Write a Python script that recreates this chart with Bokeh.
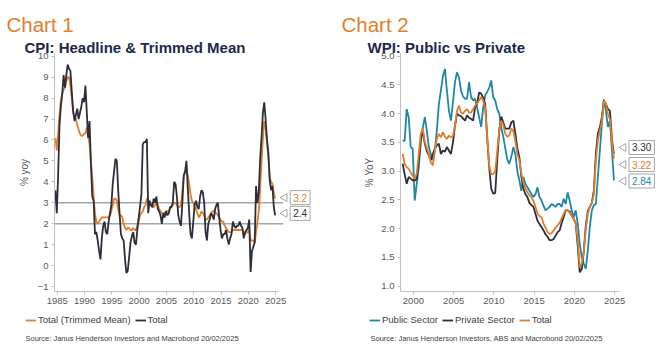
import numpy as np
from bokeh.plotting import figure
from bokeh.layouts import row
from bokeh.models import Range1d, FixedTicker, PrintfTickFormatter, Label, Legend, LegendItem
from bokeh.embed import file_html
from bokeh.resources import INLINE

# ---------------- data ----------------
cpi_start = (1984, 3)  # first quarter shown
cpi_headline = [
    3.6, 2.5,
    4.3, 6.7, 7.6, 8.2,
    9.1, 8.5, 9.1, 9.6,
    9.4, 9.3, 8.3, 7.4,
    6.9, 7.2, 7.5, 7.0,
    7.3, 7.6, 8.0, 7.8,
    8.6, 7.3, 6.1, 6.9,
    4.9, 3.3, 3.1, 1.5,
    1.6, 1.2, 0.7, 0.3,
    1.3, 1.9, 2.1, 1.6,
    1.5, 2.1, 2.5, 2.9,
    3.9, 4.5, 5.1, 5.0,
    3.6, 2.5, 1.5, 1.3,
    1.2, 0.3, -0.35, -0.25,
    0.4, 1.1, 1.4, 1.6,
    1.1, 1.0, 1.7, 2.3,
    2.8, 3.4, 5.8, 5.9,
    5.9, 6.05, 2.5, 3.1,
    2.9, 2.8, 3.2, 3.0,
    3.3, 2.7, 2.6, 2.4,
    2.0, 2.5, 2.3, 2.6,
    2.4, 2.5, 2.8, 2.8,
    3.0, 4.0, 3.9, 3.3,
    2.4, 2.1, 1.9, 3.0,
    4.3, 4.5, 5.0, 3.7,
    2.5, 1.5, 1.3, 2.1,
    2.9, 3.1, 2.8, 2.7,
    3.3, 3.6, 3.5, 3.0,
    1.6, 1.2, 2.0, 2.2,
    2.5, 2.4, 2.2, 2.7,
    2.9, 3.0, 2.3, 1.7,
    1.3, 1.5, 1.5, 1.7,
    1.3, 1.0, 1.3, 1.5,
    2.1, 1.9, 1.8, 1.9,
    1.9, 2.1, 1.9, 1.8,
    1.3, 1.6, 1.7, 1.8,
    2.2, -0.3, 0.7, 0.9,
    1.1, 3.8, 3.0, 3.5,
    5.1, 6.1, 7.3, 7.8,
    7.0, 6.0, 5.4, 4.1,
    3.6, 3.8, 2.8, 2.4,
]
cpi_trimmed = [
    6.1, 5.5,
    6.3, 7.2, 7.9, 8.2,
    8.4, 8.5, 8.8, 9.0,
    9.0, 8.6, 8.0, 7.3,
    7.1, 7.0, 6.7, 6.5,
    6.3, 6.2, 6.2, 6.3,
    6.3, 6.6, 6.2, 5.8,
    5.0, 4.2, 3.3, 2.5,
    2.1, 2.0, 2.1, 2.2,
    2.3, 2.3, 2.3, 2.3,
    2.3, 2.3, 2.4, 2.6,
    2.9, 3.2, 3.2, 3.1,
    2.7, 2.4, 2.4, 2.3,
    2.0, 1.8, 1.7, 1.8,
    1.8, 1.7, 1.7, 1.8,
    1.7, 1.7, 1.9, 2.1,
    2.4, 2.5, 2.6, 2.8,
    2.9, 3.2, 3.1, 3.0,
    2.9, 2.8, 2.8, 2.9,
    3.0, 2.9, 2.7, 2.6,
    2.5, 2.5, 2.5, 2.6,
    2.6, 2.6, 2.7, 2.8,
    2.9, 3.0, 3.0, 2.9,
    2.8, 2.8, 2.9, 3.6,
    4.2, 4.5, 4.6, 4.3,
    3.9, 3.4, 3.1, 3.0,
    2.8, 2.7, 2.5, 2.3,
    2.4, 2.6, 2.5, 2.4,
    2.2, 2.2, 2.3, 2.4,
    2.5, 2.6, 2.6, 2.5,
    2.5, 2.4, 2.3, 2.2,
    2.1, 2.1, 1.9, 1.8,
    1.7, 1.6, 1.6, 1.6,
    1.7, 1.7, 1.7, 1.7,
    1.7, 1.7, 1.7, 1.7,
    1.5, 1.5, 1.6, 1.6,
    1.7, 1.2, 1.2, 1.2,
    1.1, 1.6, 2.1, 2.6,
    3.7, 4.9, 6.1, 6.9,
    6.6, 5.9, 5.2, 4.2,
    4.0, 3.9, 3.5, 3.2,
]
cpi_x_ticks = [1985, 1990, 1995, 2000, 2005, 2010, 2015, 2020, 2025]
cpi_y_ticks = [-1, 0, 1, 2, 3, 4, 5, 6, 7, 8, 9, 10]
cpi_ref_levels = [2, 3]

wpi_start = (1998, 3)
wpi_public = [
    3.53, 3.53,
    4.08, 3.94, 3.42, 3.39,
    2.49, 2.78, 3.07, 3.50,
    3.75, 3.94, 3.71, 3.42,
    3.30, 3.19, 3.36, 3.71,
    4.17, 4.40, 4.65, 4.78,
    4.40, 4.05, 3.88, 4.20,
    4.55, 4.72, 4.63, 4.40,
    4.30, 4.26, 4.26, 4.55,
    4.29, 4.23, 4.26, 4.11,
    3.94, 3.77, 4.10, 4.32,
    4.38, 4.45, 4.58, 4.29,
    4.23, 4.08, 4.00, 3.75,
    3.60, 3.40, 3.20, 3.13,
    3.25, 3.42, 3.30, 3.00,
    2.84, 2.66, 2.90, 2.78,
    2.72, 2.66, 2.60, 2.55,
    2.60, 2.72, 2.55, 2.49,
    2.40, 2.32, 2.35, 2.38,
    2.43, 2.41, 2.38, 2.43,
    2.43, 2.38, 2.52, 2.43,
    2.63, 2.49, 2.32, 2.20,
    2.32, 2.09, 1.74, 1.50,
    1.39, 1.30, 1.62, 2.03,
    2.32, 2.41, 2.43, 2.90,
    3.36, 3.82, 4.25, 4.05,
    3.77, 3.88, 3.36, 2.84,
]
wpi_private = [
    3.13, 2.95,
    2.78, 2.90, 2.87, 2.84,
    2.84, 2.86, 3.19, 3.55,
    3.71, 3.48, 3.35, 3.28,
    3.19, 3.30, 3.39, 3.45,
    3.48, 3.30, 3.36, 3.34,
    3.42, 3.36, 3.30, 3.50,
    3.79, 4.00, 3.97, 3.96,
    3.92, 3.88, 3.97, 3.93,
    3.91, 3.88, 4.11, 4.17,
    4.37, 4.35, 4.28, 4.17,
    3.60, 3.07, 2.70, 2.61,
    2.62, 3.19, 3.71, 3.95,
    3.85, 3.74, 3.74, 3.74,
    3.85, 3.88, 3.65, 3.40,
    3.24, 2.90, 2.70, 2.60,
    2.55, 2.45, 2.41, 2.38,
    2.26, 2.14, 2.08, 2.03,
    1.97, 1.90, 1.86, 1.80,
    1.80, 1.82, 1.88, 1.94,
    1.97, 2.10, 2.20, 2.32,
    2.32, 2.30, 2.23, 2.17,
    2.09, 1.70, 1.24, 1.30,
    1.60, 2.05, 2.30, 2.38,
    2.45, 2.66, 3.30, 3.65,
    3.77, 3.94, 4.23, 4.17,
    4.08, 4.05, 3.55, 3.30,
]
wpi_total = [
    3.30, 3.13,
    3.07, 3.04, 2.98, 2.92,
    2.87, 2.96, 3.30, 3.65,
    3.74, 3.51, 3.40, 3.30,
    3.15, 3.10, 3.36, 3.56,
    3.65, 3.59, 3.68, 3.60,
    3.56, 3.62, 3.59, 3.62,
    3.79, 4.05, 4.14, 4.02,
    4.00, 4.05, 4.08, 4.02,
    4.02, 4.08, 4.14, 4.18,
    4.23, 4.29, 4.23, 4.10,
    3.60, 3.10, 2.95, 2.95,
    3.00, 3.36, 3.71, 3.88,
    3.80, 3.65, 3.60, 3.62,
    3.74, 3.70, 3.53, 3.30,
    3.19, 2.96, 2.80, 2.70,
    2.63, 2.58, 2.55, 2.48,
    2.38, 2.26, 2.22, 2.20,
    2.09, 2.02, 1.94, 1.91,
    1.92, 1.97, 2.02, 2.06,
    2.10, 2.18, 2.26, 2.32,
    2.32, 2.28, 2.23, 2.17,
    2.09, 1.80, 1.33, 1.39,
    1.60, 2.00, 2.25, 2.38,
    2.45, 2.60, 3.19, 3.53,
    3.71, 3.88, 4.23, 4.17,
    4.00, 3.90, 3.50, 3.22,
]
wpi_x_ticks = [2000, 2005, 2010, 2015, 2020, 2025]
wpi_y_ticks = [1.0, 1.5, 2.0, 2.5, 3.0, 3.5, 4.0, 4.5, 5.0]

# ---------------- styles ----------------
FONT = "Liberation Sans"
ORANGE = "#E27D2C"
DARK = "#2B2E3B"
BLUE = "#1E87A7"
NAVY = "#1B2A4A"
TXT = "#595959"
AXIS_GRAY = "#BFBFBF"
REF_GRAY = "#A6A6A6"
BOX_GRAY = "#A6A6A6"
W, H = 332, 354


def quarter_dates(start, n):
    y, q = start
    out = []
    for _ in range(n):
        out.append(y + (3 * q - 1) / 12.0)
        q += 1
        if q > 4:
            q = 1
            y += 1
    return out


def make_fig(ax_x, ax_px, px_per_x, ax_y, ax_py, px_per_y, x_end, y_end):
    """Frame covers the whole figure; axes are pinned at (ax_x, ax_y),
    which sit at pixel (ax_px, ax_py) measured from the figure's top-left."""
    x0 = ax_x - ax_px / px_per_x
    y0 = ax_y - (H - ax_py) / px_per_y
    p = figure(width=W, height=H, title=None,
               x_range=Range1d(x0, x0 + W / px_per_x),
               y_range=Range1d(y0, y0 + H / px_per_y),
               output_backend="svg", toolbar_location=None,
               min_border=0, min_border_left=0, min_border_right=0,
               min_border_top=0, min_border_bottom=0)
    p.outline_line_color = None
    p.grid.visible = False
    p.background_fill_color = "white"
    p.border_fill_color = "white"
    p.xaxis.fixed_location = ax_y
    p.yaxis.fixed_location = ax_x
    p.xaxis.bounds = (ax_x, x_end)
    p.yaxis.bounds = (ax_y, y_end)
    for ax in (p.xaxis[0], p.yaxis[0]):
        ax.axis_line_color = AXIS_GRAY
        ax.axis_line_width = 1
        ax.major_tick_line_color = AXIS_GRAY
        ax.minor_tick_line_color = None
        ax.major_tick_in = 0
        ax.major_tick_out = 3
        ax.major_label_text_font = FONT
        ax.major_label_text_font_size = "9.5px"
        ax.major_label_text_color = TXT
        ax.major_label_standoff = 3
        ax.axis_label_text_font = FONT
        ax.axis_label_text_font_size = "10px"
        ax.axis_label_text_font_style = "normal"
        ax.axis_label_text_color = TXT
    return p


def add_text(p, text, x, y_top, size, color, style="normal"):
    # x, y_top in pixels from the figure's top-left (baseline position)
    p.add_layout(Label(x=x, y=H - y_top, x_units="screen", y_units="screen", text=text,
                       text_font=FONT, text_font_size=size, text_color=color,
                       text_font_style=style, text_baseline="alphabetic", text_align="left"))


def add_callout(p, xlast, yval, text, color, px_per_x, px_per_y, dy=0):
    yy = yval + dy / px_per_y
    p.scatter(x=[xlast + 9.5 / px_per_x], y=[yy], marker="triangle", angle=np.pi / 2,
              size=8, fill_color="white", line_color=BOX_GRAY, line_width=1)
    p.add_layout(Label(x=xlast, y=yy, x_offset=15, text=text, text_font=FONT,
                       text_font_size="10px", text_color=color, text_baseline="middle",
                       text_align="left", background_fill_color="white",
                       border_line_color=BOX_GRAY, border_line_width=1, padding=3))


def make_legend(items, x, y_bottom):
    return Legend(items=items, location=(x, H - y_bottom), orientation="horizontal",
                  label_text_font=FONT, label_text_font_size="9.5px", label_text_color="#404040",
                  glyph_width=11, glyph_height=10, label_height=10, label_standoff=2,
                  spacing=4, padding=0, margin=0, border_line_color=None,
                  background_fill_alpha=0)


# ---------------- Chart 1 ----------------
PX1 = 5.46
PY1 = 20.94
cx = quarter_dates(cpi_start, len(cpi_headline))
p1 = make_fig(1984.5, 54, PX1, -1.236, 291, PY1, 2025.55, 10.13)
p1.xaxis.ticker = FixedTicker(ticks=cpi_x_ticks)
p1.yaxis.ticker = FixedTicker(ticks=cpi_y_ticks)
p1.yaxis.axis_label = "% yoy"
p1.yaxis.axis_label_standoff = 5

xl1 = cx[-1]
p1.segment(x0=[1984.5] * len(cpi_ref_levels), y0=cpi_ref_levels,
           x1=[xl1 + 8 / PX1] * len(cpi_ref_levels), y1=cpi_ref_levels,
           line_color=REF_GRAY, line_width=1.5)
r_tm = p1.line(cx, cpi_trimmed, line_color=ORANGE, line_width=1.8)
r_h = p1.line(cx, cpi_headline, line_color=DARK, line_width=1.8)

add_callout(p1, xl1, cpi_trimmed[-1], f"{cpi_trimmed[-1]:.1f}", ORANGE, PX1, PY1, dy=1)
add_callout(p1, xl1, cpi_headline[-1], f"{cpi_headline[-1]:.1f}", DARK, PX1, PY1, dy=2)

add_text(p1, "Chart 1", 6, 23.5, "20.5px", ORANGE)
add_text(p1, "CPI: Headline & Trimmed Mean", 24, 47, "15px", NAVY, "bold")
add_text(p1, "Source: Janus Henderson Investors and Macrobond  20/02/2025", 25, 337.5, "7.5px", "#404040")
p1.add_layout(make_legend([LegendItem(label="Total (Trimmed Mean)", renderers=[r_tm]),
                           LegendItem(label="Total", renderers=[r_h])], 25, 325))

# ---------------- Chart 2 ----------------
PX2 = 8.05
PY2 = 57.5
wx = quarter_dates(wpi_start, len(wpi_total))
p2 = make_fig(1998.4, 68, PX2, 0.908, 291, PY2, 2025.57, 5.047)
p2.xaxis.ticker = FixedTicker(ticks=wpi_x_ticks)
p2.yaxis.ticker = FixedTicker(ticks=wpi_y_ticks)
p2.yaxis.formatter = PrintfTickFormatter(format="%.1f")
p2.yaxis.axis_label = "% YoY"
p2.yaxis.axis_label_standoff = 3

r_pub = p2.line(wx, wpi_public, line_color=BLUE, line_width=1.8)
r_pri = p2.line(wx, wpi_private, line_color=DARK, line_width=1.8)
r_tot = p2.line(wx, wpi_total, line_color=ORANGE, line_width=1.8)

xl2 = wx[-1]
add_callout(p2, xl2, wpi_private[-1], f"{wpi_private[-1]:.2f}", DARK, PX2, PY2, dy=6.5)
add_callout(p2, xl2, wpi_total[-1], f"{wpi_total[-1]:.2f}", ORANGE, PX2, PY2, dy=-6)
add_callout(p2, xl2, wpi_public[-1], f"{wpi_public[-1]:.2f}", BLUE, PX2, PY2, dy=-0.6)

add_text(p2, "Chart 2", 9, 23.5, "20.5px", ORANGE)
add_text(p2, "WPI: Public vs Private", 35, 47, "15px", NAVY, "bold")
add_text(p2, "Source: Janus Henderson Investors, ABS and Macrobond  20/02/2025", 38, 337.5, "7.5px", "#404040")
p2.add_layout(make_legend([LegendItem(label="Public Sector", renderers=[r_pub]),
                           LegendItem(label="Private Sector", renderers=[r_pri]),
                           LegendItem(label="Total", renderers=[r_tot])], 37, 325))

layout = row(p1, p2, spacing=0)
open("out.html", "w").write(file_html(layout, INLINE))
